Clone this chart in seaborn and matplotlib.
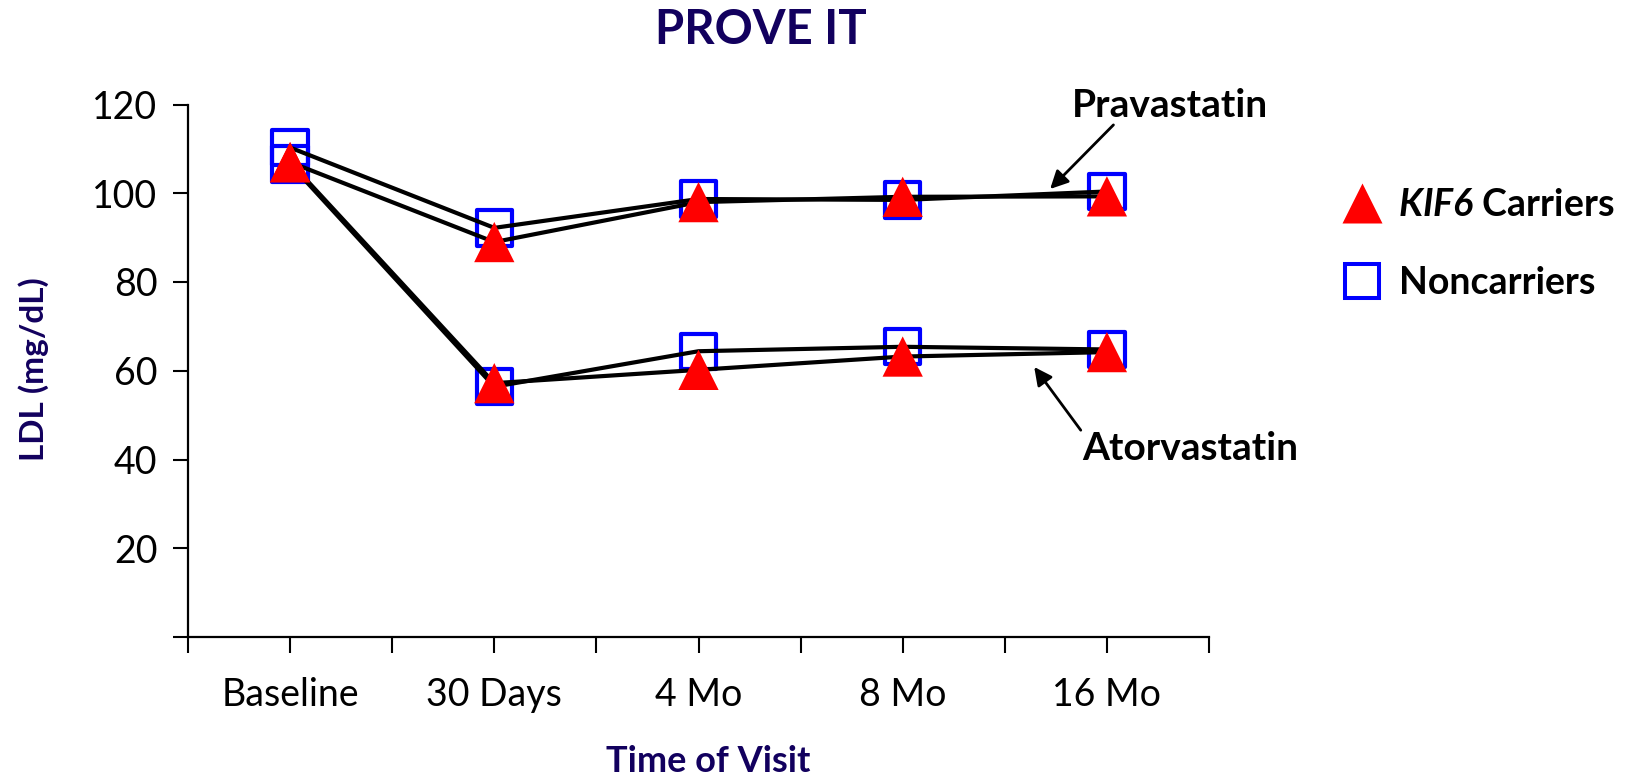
import matplotlib
matplotlib.use("Agg")
import matplotlib.pyplot as plt
from matplotlib.lines import Line2D
import numpy as np
import pandas as pd
import seaborn as sns

# ---- data -------------------------------------------------------------
visits = ["Baseline", "30 Days", "4 Mo", "8 Mo", "16 Mo"]
prava_carriers = [107.0, 89.0, 98.0, 99.2, 99.3]
prava_noncarriers = [110.3, 92.2, 98.7, 98.5, 100.4]
atorva_carriers = [107.0, 57.2, 60.2, 63.2, 64.2]
atorva_noncarriers = [106.6, 56.4, 64.4, 65.4, 64.8]
y_ticks = [0, 20, 40, 60, 80, 100, 120]
y_tick_labels = ["", "20", "40", "60", "80", "100", "120"]

series = {
    ("Pravastatin", "Carriers"): prava_carriers,
    ("Pravastatin", "Noncarriers"): prava_noncarriers,
    ("Atorvastatin", "Carriers"): atorva_carriers,
    ("Atorvastatin", "Noncarriers"): atorva_noncarriers,
}
rows = []
for (drug, geno), vals in series.items():
    for v, ldl in zip(visits, vals):
        rows.append({"visit": v, "ldl": ldl, "drug": drug, "genotype": geno,
                     "series": f"{drug} {geno}"})
df = pd.DataFrame(rows)

# ---- style ------------------------------------------------------------
sns.set_theme(style="white")
plt.rcParams["font.family"] = ["Lato", "DejaVu Sans"]
plt.rcParams["text.color"] = "black"
plt.rcParams["axes.labelcolor"] = "black"
plt.rcParams["mathtext.fontset"] = "custom"
plt.rcParams["mathtext.it"] = "Lato:italic:bold"
plt.rcParams["mathtext.rm"] = "Lato:italic:bold"
plt.rcParams["mathtext.bf"] = "Lato:italic:bold"

NAVY = "#12005e"
RED = "#ff0000"
BLUE = "#0000ff"

W, H = 1637, 777
fig = plt.figure(figsize=(W / 100, H / 100), dpi=100)
ax_left, ax_right = 188, 1209
ax_top, ax_bottom = 104.5, 637
ax = fig.add_axes([ax_left / W, 1 - ax_bottom / H,
                   (ax_right - ax_left) / W, (ax_bottom - ax_top) / H])

# open squares for noncarriers (beneath the lines)
sns.scatterplot(data=df[df.genotype == "Noncarriers"], x="visit", y="ldl",
                marker="s", s=25.5 ** 2, facecolor="none", edgecolor=BLUE,
                linewidth=3.0, zorder=2, ax=ax, legend=False)

# connecting lines, one per drug/genotype series
sns.lineplot(data=df, x="visit", y="ldl", units="series", estimator=None,
             sort=False, color="black", linewidth=3.0, zorder=3, ax=ax,
             legend=False, solid_joinstyle="round", solid_capstyle="round")

# filled triangles for KIF6 carriers (on top)
sns.scatterplot(data=df[df.genotype == "Carriers"], x="visit", y="ldl",
                marker="^", s=29 ** 2, color=RED, edgecolor="none",
                linewidth=0, zorder=4, ax=ax, legend=False)

# ---- axes -------------------------------------------------------------
ax.set_xlim(-0.5, 4.45)
ax.set_ylim(0, 120)
ax.set_xticks(range(len(visits)))
ax.set_xticklabels(visits)
ax.set_xticks(np.arange(-0.5, len(visits), 1.0), minor=True)
ax.set_yticks(y_ticks)
ax.set_yticklabels(y_tick_labels)

for side in ("top", "right"):
    ax.spines[side].set_visible(False)
for side in ("left", "bottom"):
    ax.spines[side].set_color("black")
    ax.spines[side].set_linewidth(1.6)

ax.tick_params(axis="x", which="both", direction="out", length=11.5,
               width=1.5, color="black", bottom=True)
ax.tick_params(axis="x", which="major", pad=17, labelsize=27, labelcolor="black")
ax.tick_params(axis="y", which="major", direction="out", length=11,
               width=1.5, color="black", left=True, pad=11, labelsize=27,
               labelcolor="black")

ax.set_xlabel("Time of Visit", fontsize=26, fontweight="bold", color=NAVY)
ax.xaxis.set_label_coords((708.5 - ax_left) / (ax_right - ax_left),
                          (ax_bottom - 772) / (ax_bottom - ax_top))
ax.xaxis.label.set_va("baseline")

ax.set_ylabel("LDL (mg/dL)", fontsize=24, fontweight="bold", color=NAVY)
ax.yaxis.set_label_coords((44 - ax_left) / (ax_right - ax_left),
                          (ax_bottom - 369.5) / (ax_bottom - ax_top))
ax.yaxis.label.set_va("baseline")

fig.text(761 / W, 1 - 44 / H, "PROVE IT", fontsize=34, fontweight="bold",
         color=NAVY, ha="center", va="baseline")

# ---- drug annotations -------------------------------------------------
arrow = dict(arrowstyle="-|>,head_length=0.9,head_width=0.45",
             color="black", lw=2.0, shrinkA=0, shrinkB=0)
ax.annotate("", xy=(3.722, 100.96), xytext=(4.032, 115.4), arrowprops=arrow,
            annotation_clip=False)
ax.text(4.31, 117.2, "Pravastatin", fontsize=28, fontweight="bold",
        color="black", ha="center", va="baseline", clip_on=False)
ax.annotate("", xy=(3.644, 60.85), xytext=(3.872, 46.6), arrowprops=arrow,
            annotation_clip=False)
ax.text(4.41, 39.9, "Atorvastatin", fontsize=28, fontweight="bold",
        color="black", ha="center", va="baseline", clip_on=False)

# ---- legend -----------------------------------------------------------
handles = [
    Line2D([], [], linestyle="none", marker="^", markersize=29,
           markerfacecolor=RED, markeredgecolor="none"),
    Line2D([], [], linestyle="none", marker="s", markersize=25,
           markerfacecolor="none", markeredgecolor=BLUE, markeredgewidth=2.9),
]
leg = ax.legend(handles, [r"$\mathit{KIF6}$ Carriers", "Noncarriers"],
                loc="center left", bbox_to_anchor=(1343 / W, 1 - 244 / H),
                bbox_transform=fig.transFigure, frameon=False,
                borderaxespad=0, borderpad=0, handlelength=1.0,
                handletextpad=0.48, labelspacing=1.17,
                prop={"size": 27, "weight": "bold"})
for t in leg.get_texts():
    t.set_color("black")

fig.savefig("out.png", dpi=100, facecolor="white")
